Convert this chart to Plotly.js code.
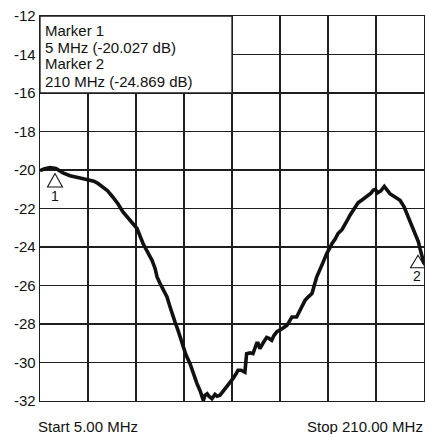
<!DOCTYPE html>
<html><head><meta charset="utf-8">
<script src="https://cdn.plot.ly/plotly-3.0.1.min.js"></script>
<style>html,body{margin:0;padding:0;background:#fff;}#chart{width:426px;height:434px;}</style>
</head><body><div id="chart"></div>
<script>
// Trace data (MHz, dB)
const freqMHz = [5.0, 7.1, 10.3, 13.5, 17.3, 21.0, 26.4, 30.6, 33.8, 36.0, 38.6, 40.8, 43.4, 46.6, 49.3, 53.0, 56.8, 60.0, 62.1, 64.8, 66.4, 67.5, 69.1, 70.7, 72.8, 74.4, 75.5, 77.1, 78.7, 80.3, 81.3, 82.9, 85.1, 86.7, 87.7, 88.8, 90.4, 91.5, 92.2, 93.1, 94.2, 95.2, 96.8, 98.4, 99.5, 101.1, 102.7, 104.8, 106.4, 108.0, 109.6, 110.7, 112.3, 114.4, 115.3, 117.1, 118.7, 119.8, 120.7, 121.4, 122.4, 124.0, 126.0, 127.3, 128.7, 129.9, 131.5, 134.2, 136.9, 138.5, 139.5, 142.0, 143.3, 144.9, 146.5, 148.1, 150.2, 152.7, 154.5, 156.1, 158.1, 159.8, 160.9, 162.5, 164.1, 166.2, 167.8, 169.4, 170.5, 173.2, 174.8, 176.7, 178.5, 180.3, 181.7, 182.9, 184.1, 185.1, 186.9, 188.8, 190.2, 191.8, 194.5, 197.2, 199.3, 200.8, 202.5, 204.3, 205.7, 207.0, 207.9, 208.8, 210.0];
const gainDb = [-20.03, -19.95, -19.88, -19.92, -20.15, -20.3, -20.42, -20.5, -20.58, -20.7, -20.9, -21.05, -21.35, -21.75, -22.18, -22.6, -23.04, -23.82, -24.2, -24.69, -25.1, -25.56, -25.9, -26.25, -26.6, -27.1, -27.46, -27.9, -28.33, -28.8, -29.2, -29.6, -30.06, -30.58, -30.9, -31.1, -31.45, -31.7, -31.97, -31.7, -31.62, -31.75, -31.88, -31.66, -31.75, -31.7, -31.5, -31.27, -31.1, -30.84, -30.6, -30.4, -30.4, -30.5, -29.54, -29.5, -29.54, -29.3, -29.0, -29.0, -29.28, -29.0, -28.7, -28.75, -28.85, -28.6, -28.4, -28.25, -28.07, -27.8, -27.64, -27.64, -27.4, -27.1, -26.77, -26.6, -26.42, -25.56, -25.2, -24.8, -24.34, -24.0, -23.82, -23.6, -23.3, -23.1, -22.78, -22.55, -22.35, -21.92, -21.7, -21.57, -21.45, -21.31, -21.2, -21.05, -21.0, -21.19, -21.09, -20.85, -21.0, -21.23, -21.4, -21.57, -21.9, -22.26, -22.7, -23.13, -23.4, -23.73, -24.1, -24.52, -24.869];

// Markers
const markerNames = ["Marker 1", "Marker 2"];
const markerLabels = ["1", "2"];
const markerFreq = [5, 210];
const markerDb = [-20.027, -24.869];

// Axes
const startFreq = 5;
const stopFreq = 210;
const xDivisions = 8;
const yTickVals = [-32, -30, -28, -26, -24, -22, -20, -18, -16, -14, -12];
const yTickText = yTickVals.map(v => String(v));

const xGridVals = [];
for (let k = 0; k <= xDivisions; k++) xGridVals.push(startFreq + k * (stopFreq - startFreq) / xDivisions);

const FONT = "Liberation Sans, Arial, Helvetica, sans-serif";
const GRID = "#1e1e1e";

// Marker triangle geometry (pixel offsets relative to marker point) and label offsets
const triPaths = ["M15,-3L7.5,-16.5L22.5,-16.5Z", "M-6,8.5L-13.5,-4L1.5,-4Z"];
const labelShift = [[15, -25], [-7, -12.6]];

const shapes = [{
  type: "rect", xref: "x", yref: "y",
  x0: startFreq, x1: xGridVals[4], y0: -16, y1: -12,
  fillcolor: "#ffffff", line: {color: GRID, width: 1.3}, layer: "between"
}];
const annotations = [];
markerFreq.forEach((f, i) => {
  shapes.push({
    type: "path", xref: "x", yref: "y",
    xsizemode: "pixel", ysizemode: "pixel",
    xanchor: f, yanchor: markerDb[i],
    path: triPaths[i],
    line: {color: "#111", width: 1.1}, fillcolor: "rgba(0,0,0,0)", layer: "between"
  });
  annotations.push({
    x: f, y: markerDb[i], xref: "x", yref: "y", showarrow: false,
    text: markerLabels[i], font: {family: FONT, size: 14, color: "#111"},
    xanchor: "center", yanchor: "middle",
    xshift: labelShift[i][0], yshift: labelShift[i][1]
  });
});

// Marker readout box text
const boxLines = [];
markerFreq.forEach((f, i) => {
  boxLines.push(markerNames[i]);
  boxLines.push(f + " MHz (" + markerDb[i].toFixed(3) + " dB)");
});
const boxShifts = [-14.5, -31.2, -47.8, -65.2];
boxLines.forEach((t, j) => {
  annotations.push({
    x: startFreq, y: -12, xref: "x", yref: "y", showarrow: false,
    text: t, font: {family: FONT, size: 15, color: "#111"},
    xanchor: "left", yanchor: "middle", xshift: 3, yshift: boxShifts[j]
  });
});

annotations.push({
  x: 0, y: 0, xref: "paper", yref: "paper", showarrow: false,
  text: "Start " + startFreq.toFixed(2) + " MHz",
  font: {family: FONT, size: 15, color: "#111"},
  xanchor: "left", yanchor: "middle", xshift: -4, yshift: -25
});
annotations.push({
  x: 1, y: 0, xref: "paper", yref: "paper", showarrow: false,
  text: "Stop " + stopFreq.toFixed(2) + " MHz",
  font: {family: FONT, size: 15, color: "#111"},
  xanchor: "right", yanchor: "middle", xshift: 1, yshift: -25
});

const trace = {
  x: freqMHz, y: gainDb, type: "scatter", mode: "lines",
  line: {color: "#111", width: 3.6, shape: "linear"},
  hoverinfo: "skip", cliponaxis: true
};

const layout = {
  width: 426, height: 434,
  margin: {l: 40, r: 2, t: 16, b: 33, pad: 0},
  paper_bgcolor: "#fff", plot_bgcolor: "#fff",
  showlegend: false,
  xaxis: {
    range: [startFreq, stopFreq], tickmode: "array", tickvals: xGridVals,
    showticklabels: false, ticks: "", showgrid: true, gridcolor: GRID, gridwidth: 1.3,
    zeroline: false, showline: true, mirror: true, linecolor: GRID, linewidth: 1.3,
    fixedrange: true
  },
  yaxis: {
    range: [-32, -12], tickmode: "array", tickvals: yTickVals, ticktext: yTickText,
    ticks: "", showgrid: true, gridcolor: GRID, gridwidth: 1.3,
    zeroline: false, showline: true, mirror: true, linecolor: GRID, linewidth: 1.3,
    tickfont: {family: FONT, size: 15, color: "#111"}, fixedrange: true
  },
  shapes: shapes,
  annotations: annotations
};

Plotly.newPlot("chart", [trace], layout, {staticPlot: true, displayModeBar: false});
</script>
</body></html>
